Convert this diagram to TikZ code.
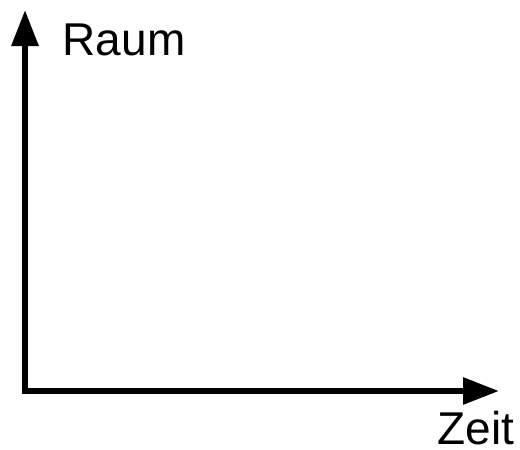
\documentclass[tikz,border=0pt]{standalone}
\usepackage{fontspec}
\setmainfont{Liberation Sans}
\usetikzlibrary{arrows.meta}
\begin{document}
\begin{tikzpicture}[x=1pt, y=-1pt, >={Triangle[length=36pt, width=26pt]}]
  \useasboundingbox (0,0) rectangle (520,450);
  \tikzset{axislabel/.style={inner sep=0pt, text depth=0pt, font=\fontsize{46}{50}\selectfont}}

  % Axes corner and tips
  \coordinate (O) at (25,391);
  \coordinate (Ytip) at (25,10);
  \coordinate (Xtip) at (499,391);

  % Axes
  \draw[<->, line width=6pt, line join=miter] (Ytip) -- (O) -- (Xtip);

  % Labels
  \node[axislabel, anchor=base west] (raum) at (62.5,55) {Raum};
  \node[axislabel, anchor=base west] (zeit) at (437.5,444) {Zeit};
\end{tikzpicture}
\end{document}
